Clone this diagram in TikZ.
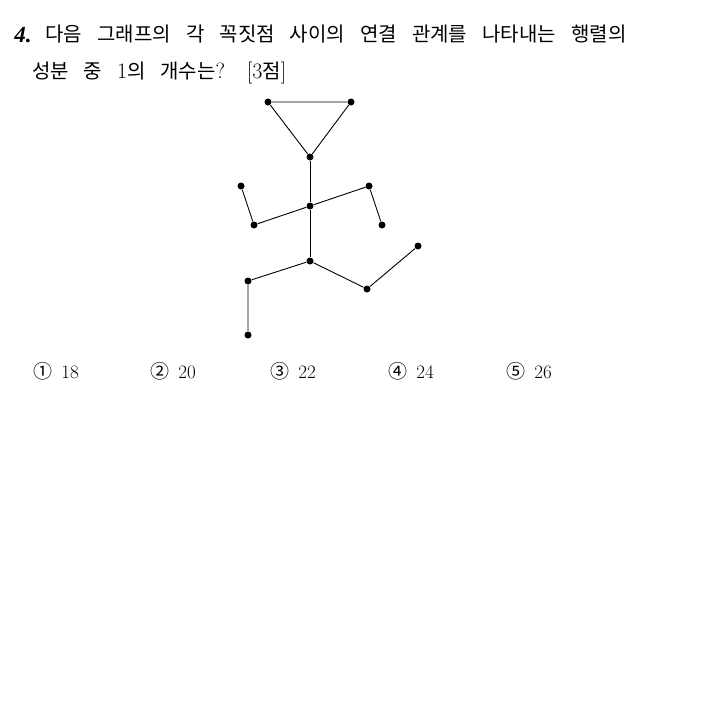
\documentclass[tikz,border=0pt]{standalone}
\usepackage{fontspec}
\newfontfamily\kr{Noto Sans CJK KR}
\newfontfamily\qnum{Liberation Serif}
\usetikzlibrary{positioning}
\frenchspacing
\newcommand\lat[1]{{\rmfamily\fontsize{22}{24}\selectfont #1}}

\begin{document}
\begin{tikzpicture}[x=1pt,y=-1pt,line width=.9pt,
  vtx/.style={circle,fill,inner sep=0pt,minimum size=7pt},
  txt/.style={anchor=base west,inner sep=0pt,font=\fontsize{20}{24}\selectfont}]
\path[use as bounding box] (0,0) rectangle (707,723);
% question
\node[txt,font=\fontsize{23}{24}\qnum\bfseries\itshape] (num) at (14,42) {4.};
\node[txt] (l1) at (45,41) {\makebox[581pt][s]{\kr 다음 그래프의 각 꼭짓점 사이의 연결 관계를 나타내는 행렬의}};
\node[txt] (l2) at (32,78) {\makebox[254pt][s]{\kr 성분 중 \lat{1}의 개수는\lat{? [3}점\lat{]}}};
% graph
\node[vtx] (tl) at (268,102) {};
\node[vtx] (tr) at (351,102) {};
\node[vtx] (n) at (310,157) {};
\node[vtx] (c) at (310,206) {};
\node[vtx] (lh) at (241,186) {};
\node[vtx] (le) at (254,225) {};
\node[vtx] (re) at (369,186) {};
\node[vtx] (rh) at (382,225) {};
\node[vtx] (h) at (310,261) {};
\node[vtx] (lk) at (248,281) {};
\node[vtx] (lf) at (248,335) {};
\node[vtx] (rk) at (367,289) {};
\node[vtx] (rf) at (418,246) {};
\draw (tl) -- (tr) -- (n) -- (tl);
\draw (n) -- (c) -- (h);
\draw (lh) -- (le) -- (c) -- (re) -- (rh);
\draw (lf) -- (lk) -- (h) -- (rk) -- (rf);
% choices
\foreach \i/\v/\x in {1/18/33,2/20/150,3/22/270,4/24/388,5/26/506}
  \node[txt,font=\fontsize{19}{24}\selectfont] (a\i) at (\x,378) {{\kr\ifcase\i\or ①\or ②\or ③\or ④\or ⑤\fi}\hspace{9pt}\v};
\end{tikzpicture}
\end{document}
